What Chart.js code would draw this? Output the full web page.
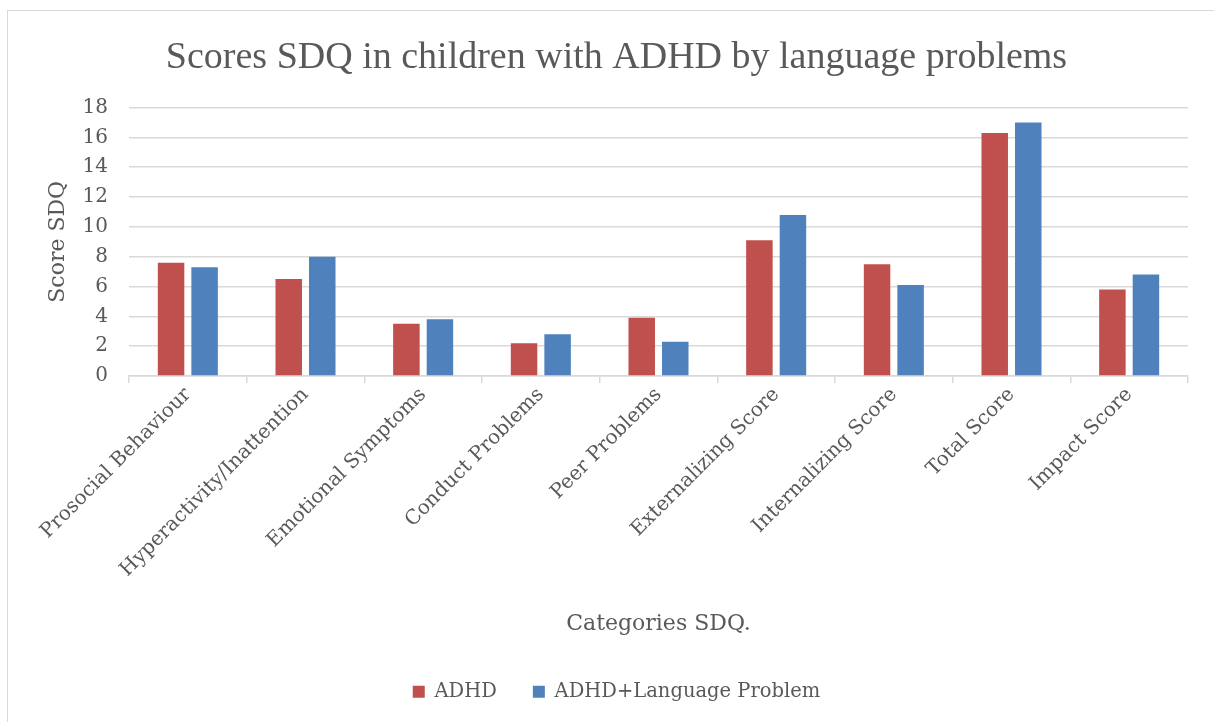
<!DOCTYPE html>
<html>
<head>
<meta charset="utf-8">
<script src="https://cdn.jsdelivr.net/npm/chart.js@4.4.1/dist/chart.umd.min.js"></script>
<style>
  html, body { margin: 0; padding: 0; background: #ffffff; }
  #wrap { position: relative; width: 1214px; height: 722px; overflow: hidden; }
  #frame {
    position: absolute; left: 7px; top: 10px; width: 1220px; height: 720px;
    border-left: 1.5px solid #d9d9d9; border-top: 1.5px solid #d9d9d9;
    box-sizing: border-box;
  }
  canvas { position: absolute; left: 0; top: 0; }
</style>
</head>
<body>
<div id="wrap">
  <div id="frame"></div>
  <canvas id="chart" width="1214" height="722"></canvas>
</div>
<script>
// SDQ categories and mean scores per group
const categories = [
  "Prosocial Behaviour",
  "Hyperactivity/Inattention",
  "Emotional Symptoms",
  "Conduct Problems",
  "Peer Problems",
  "Externalizing Score",
  "Internalizing Score",
  "Total Score",
  "Impact Score"
];
const adhdScores = [7.6, 6.5, 3.5, 2.2, 3.9, 9.1, 7.5, 16.3, 5.8];
const adhdLanguageScores = [7.3, 8.0, 3.8, 2.8, 2.3, 10.8, 6.1, 17.0, 6.8];
const seriesNames = ["ADHD", "ADHD+Language Problem"];
const yTicks = [0, 2, 4, 6, 8, 10, 12, 14, 16, 18];

const textColor = "#595959";
const lineColor = "#d9d9d9";
const bodyFont = "'DejaVu Serif', 'Liberation Serif', serif";
const titleFont = "'Liberation Serif', 'DejaVu Serif', serif";
Chart.defaults.font.family = bodyFont;
Chart.defaults.color = textColor;

new Chart(document.getElementById("chart"), {
  type: "bar",
  data: {
    labels: categories,
    datasets: [
      { label: seriesNames[0], data: adhdScores, backgroundColor: "#C0504D" },
      { label: seriesNames[1], data: adhdLanguageScores, backgroundColor: "#4F81BD" }
    ]
  },
  options: {
    responsive: false,
    animation: false,
    layout: { padding: { left: 45, right: 26, top: 17, bottom: 20 } },
    datasets: { bar: { categoryPercentage: 0.57, barPercentage: 0.79 } },
    plugins: {
      title: {
        display: true,
        text: "Scores SDQ in children with ADHD by language problems",
        font: { family: titleFont, size: 38, weight: "normal" },
        color: textColor,
        padding: { top: 18, bottom: 27 }
      },
      legend: {
        position: "bottom",
        maxHeight: 56,
        labels: {
          boxWidth: 12,
          boxHeight: 12,
          padding: 36,
          font: { size: 19.5 },
          color: textColor
        }
      },
      tooltip: { enabled: false }
    },
    scales: {
      x: {
        afterFit: (scale) => { scale.height = 270; },
        grid: {
          offset: true,
          drawOnChartArea: false,
          drawTicks: true,
          tickLength: 7,
          color: lineColor,
          lineWidth: 1.5
        },
        border: { display: true, color: lineColor, width: 1.5 },
        ticks: {
          minRotation: 45,
          maxRotation: 45,
          padding: 0,
          font: { size: 20 },
          color: textColor
        },
        title: {
          display: true,
          text: "Categories SDQ.",
          font: { size: 22 },
          color: textColor,
          padding: { top: 10, bottom: 9 }
        }
      },
      y: {
        min: 0,
        max: 18,
        afterFit: (scale) => { scale.width = 84; },
        afterBuildTicks: (scale) => { scale.ticks = yTicks.map(v => ({ value: v })); },
        grid: { color: lineColor, lineWidth: 1.5, drawTicks: false },
        border: { display: false },
        ticks: { padding: 21, font: { size: 20 }, color: textColor },
        title: {
          display: true,
          text: "Score SDQ",
          font: { size: 22 },
          color: textColor,
          padding: { top: 0, bottom: 2 }
        }
      }
    }
  }
});
</script>
</body>
</html>
